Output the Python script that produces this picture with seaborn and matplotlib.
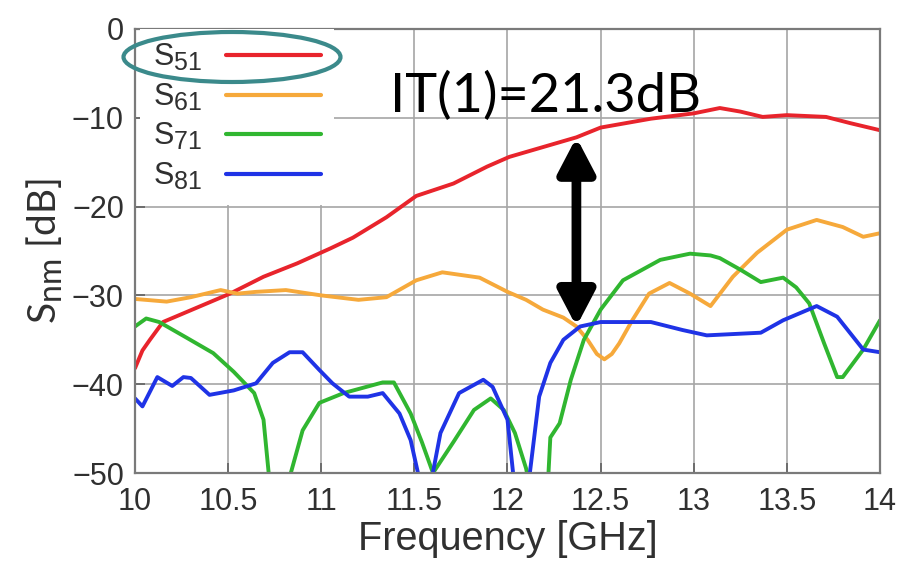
import numpy as np
import pandas as pd
import seaborn as sns
import matplotlib.pyplot as plt
import matplotlib._mathtext as mathtext_impl
from matplotlib.lines import Line2D
from matplotlib.patches import Ellipse

# Transmission coefficients from port 1 to ports 5..8
freq_s51 = [10.0, 10.04, 10.08, 10.15, 10.24, 10.33, 10.51, 10.69, 10.87, 11.05, 11.17,
            11.35, 11.51, 11.71, 11.89, 12.01, 12.19, 12.37, 12.5, 12.77, 13.0, 13.14,
            13.25, 13.37, 13.5, 13.71, 13.84, 14.0]
s51 = [-38.2, -36.2, -35.0, -33.0, -32.2, -31.4, -29.8, -27.9, -26.4, -24.7, -23.5,
       -21.2, -18.8, -17.4, -15.5, -14.4, -13.3, -12.2, -11.1, -10.1, -9.5, -8.9,
       -9.3, -9.9, -9.7, -9.9, -10.6, -11.4]

freq_s61 = [10.0, 10.17, 10.3, 10.46, 10.55, 10.65, 10.81, 11.0, 11.2, 11.35, 11.51,
            11.65, 11.85, 12.0, 12.1, 12.19, 12.3, 12.37, 12.43, 12.48, 12.52, 12.56,
            12.6, 12.67, 12.76, 12.87, 12.98, 13.09, 13.21, 13.34, 13.5, 13.66, 13.8,
            13.91, 14.0]
s61 = [-30.4, -30.7, -30.2, -29.4, -29.8, -29.6, -29.4, -30.0, -30.5, -30.2, -28.3,
       -27.4, -28.0, -29.6, -30.5, -31.6, -32.5, -33.5, -35.0, -36.6, -37.2, -36.6,
       -35.4, -32.8, -29.8, -28.6, -29.8, -31.2, -27.9, -25.2, -22.6, -21.5, -22.3,
       -23.4, -23.0]

freq_s71 = [10.0, 10.06, 10.13, 10.28, 10.42, 10.53, 10.64, 10.69, 10.72, 10.77, 10.83,
            10.9, 10.99, 11.12, 11.33, 11.39, 11.48, 11.54, 11.6, 11.71, 11.82, 11.91,
            11.98, 12.04, 12.1, 12.16, 12.22, 12.23, 12.28, 12.34, 12.41, 12.5, 12.62,
            12.82, 12.98, 13.09, 13.14, 13.25, 13.36, 13.48, 13.55, 13.62, 13.7, 13.77,
            13.8, 13.91, 14.0]
s71 = [-33.5, -32.6, -33.0, -34.8, -36.5, -38.6, -41.0, -44.0, -50.5, -58.0, -50.5,
       -45.2, -42.1, -41.0, -39.8, -39.8, -43.3, -46.5, -50.0, -46.5, -42.9, -41.6,
       -42.9, -45.5, -49.5, -56.0, -50.0, -46.0, -44.4, -39.5, -35.0, -31.6, -28.3,
       -26.0, -25.3, -25.5, -25.8, -27.1, -28.5, -28.0, -29.1, -30.9, -35.4, -39.2,
       -39.2, -36.1, -32.8]

freq_s81 = [10.0, 10.04, 10.12, 10.2, 10.26, 10.3, 10.4, 10.53, 10.65, 10.74, 10.83,
            10.9, 10.99, 11.06, 11.15, 11.25, 11.33, 11.42, 11.48, 11.53, 11.555, 11.59,
            11.64, 11.74, 11.87, 11.92, 12.0, 12.03, 12.07, 12.12, 12.17, 12.23, 12.3,
            12.39, 12.5, 12.77, 12.94, 13.07, 13.36, 13.48, 13.66, 13.77, 13.91, 14.0]
s81 = [-41.6, -42.5, -39.2, -40.2, -39.2, -39.3, -41.2, -40.7, -39.9, -37.6, -36.4,
       -36.4, -38.4, -39.9, -41.4, -41.4, -41.0, -43.3, -46.3, -51.0, -55.0, -51.0,
       -45.5, -41.0, -39.5, -40.3, -44.0, -50.0, -57.0, -50.0, -41.4, -37.6, -35.0,
       -33.5, -33.0, -33.0, -33.9, -34.5, -34.2, -32.8, -31.2, -32.4, -36.1, -36.4]

trace_names = ["S51", "S61", "S71", "S81"]
trace_labels = [r"S$_{51}$", r"S$_{61}$", r"S$_{71}$", r"S$_{81}$"]
trace_colors = ["#e8242c", "#f6a93b", "#30b630", "#1f33e6"]

x_ticks = [10, 10.5, 11, 11.5, 12, 12.5, 13, 13.5, 14]
x_tick_labels = ["10", "10.5", "11", "11.5", "12", "12.5", "13", "13.5", "14"]
y_ticks = [0, -10, -20, -30, -40, -50]

# Isolation marker between S51 and S81
it_freq = 12.37
it_top = -12.2
it_bottom = -33.5

sns.set_style("ticks")
plt.rcParams["font.family"] = ["Liberation Sans", "DejaVu Sans"]
plt.rcParams["mathtext.default"] = "regular"
# larger subscripts, as in the gnuplot-style labels
mathtext_impl.SHRINK_FACTOR = 0.82

df = pd.concat([
    pd.DataFrame({"Frequency": f, "S": v, "trace": n})
    for n, f, v in zip(trace_names, [freq_s51, freq_s61, freq_s71, freq_s81],
                       [s51, s61, s71, s81])
])

fig = plt.figure(figsize=(9.04, 5.68), dpi=100)
ax = fig.add_axes([135 / 904, 1 - 473 / 568, 745 / 904, 444 / 568])

sns.lineplot(data=df, x="Frequency", y="S", hue="trace", hue_order=trace_names,
             palette=dict(zip(trace_names, trace_colors)), estimator=None, sort=False,
             lw=2.8, ax=ax, legend=False)

ax.set_xlim(10, 14)
ax.set_ylim(-50, 0)
ax.set_xticks(x_ticks)
ax.set_xticklabels(x_tick_labels)
ax.set_yticks(y_ticks)
ax.grid(True, color="#a6a6a6", lw=1.2)
ax.tick_params(direction="in", length=7, width=1.2, color="#606060",
               labelsize=22, labelcolor="#303030")
ax.tick_params(axis="x", pad=10)
ax.tick_params(axis="y", pad=8)
for sp in ax.spines.values():
    sp.set_color("#7a7a7a")
    sp.set_linewidth(1.6)

ax.set_xlabel("Frequency [GHz]", fontsize=28.5, color="#303030", labelpad=2)
ax.set_ylabel(r"S$_{nm}$ [dB]", fontsize=28, color="#303030", labelpad=6,
              family=["Lato", "DejaVu Sans"])

handles = [Line2D([], [], color=c, lw=3.0) for c in trace_colors]
leg = ax.legend(handles, trace_labels, loc="upper left",
                bbox_to_anchor=(0.007, 1.0),
                markerfirst=False, frameon=True, facecolor="white", edgecolor="none",
                framealpha=1, fancybox=False, fontsize=22, handlelength=3.1,
                handletextpad=0.78, labelspacing=0.28, borderpad=0.42,
                borderaxespad=0.0)
for t in leg.get_texts():
    t.set_color("#303030")

ax.annotate("", xy=(it_freq, it_top), xytext=(it_freq, it_bottom),
            arrowprops=dict(arrowstyle="<|-|>,head_length=1.05,head_width=0.55",
                            mutation_scale=20, lw=7, color="black",
                            shrinkA=0, shrinkB=0), zorder=6)
ax.text(11.37, -9.35, f"IT(1)={it_top - it_bottom:.1f}dB", fontsize=39,
        family=["Lato", "DejaVu Sans"], va="baseline", ha="left", color="black",
        zorder=7)

fig.add_artist(Ellipse((232 / 904, 1 - 57 / 568), 217 / 904, 50 / 568,
                       transform=fig.transFigure, fill=False,
                       edgecolor="#3b8a8b", lw=3, zorder=10))

fig.savefig("out.png", dpi=100)
